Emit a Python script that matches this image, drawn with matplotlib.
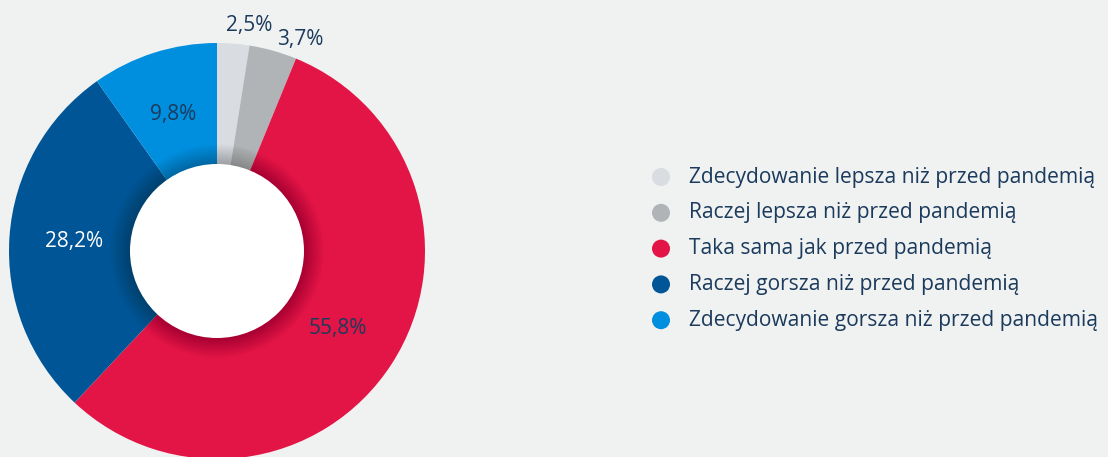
import matplotlib.pyplot as plt
from matplotlib.patches import Circle
import numpy as np

# dane
categories = ['Zdecydowanie lepsza niż przed pandemią',
              'Raczej lepsza niż przed pandemią',
              'Taka sama jak przed pandemią',
              'Raczej gorsza niż przed pandemią',
              'Zdecydowanie gorsza niż przed pandemią']
values = [2.5, 3.7, 55.8, 28.2, 9.8]
labels = ['2,5%', '3,7%', '55,8%', '28,2%', '9,8%']
colors = ['#d9dce0', '#b1b4b7', '#e31546', '#005596', '#008fdf']
label_colors = ['#1b3a5c', '#1b3a5c', '#1b3a5c', 'white', '#1b3a5c']

bg = '#f0f2f2'
txt = '#1b3a5c'
plt.rcParams['font.family'] = ['Open Sans', 'DejaVu Sans']

fig = plt.figure(figsize=(11.08, 4.57), dpi=100)
fig.patch.set_facecolor(bg)
ax = fig.add_axes([0, 0, 1, 1])
ax.set_facecolor(bg)

cx, cy, R, r_in = 217, 457 - 251, 208, 87
wedges, _ = ax.pie(values, colors=colors, startangle=90, counterclock=False,
                   center=(cx, cy), radius=R, wedgeprops=dict(linewidth=0))
ax.set_xlim(0, 1108)
ax.set_ylim(0, 457)
ax.set_aspect('equal')
ax.axis('off')

# cien wokol otworu
for k in range(20):
    ax.add_patch(Circle((cx, cy), r_in + 20 - k, color='black', alpha=0.011, lw=0, zorder=3))
ax.add_patch(Circle((cx, cy), r_in, color='white', lw=0, zorder=4))

# etykiety
cum = np.cumsum([0] + values)
for i, lab in enumerate(labels):
    if values[i] < 5:
        ang = cum[i + 1] / 100 * 2 * np.pi
        rr = R * 1.1
        dx = -4
    else:
        ang = (cum[i] + cum[i + 1]) / 2 / 100 * 2 * np.pi
        rr = R * 0.69
        dx = 0
    x = cx + rr * np.sin(ang) + dx
    y = cy + rr * np.cos(ang)
    ax.text(x, y, lab, ha='center', va='center', fontsize=15,
            color=label_colors[i], zorder=5)

# legenda
for i, cat in enumerate(categories):
    ly = 457 - (177 + i * 35.8)
    ax.add_patch(Circle((661, ly), 9, color=colors[i], lw=0))
    ax.text(689, ly, cat, ha='left', va='center', fontsize=15.1, color=txt)

fig.savefig('out.png', dpi=100, facecolor=bg)
